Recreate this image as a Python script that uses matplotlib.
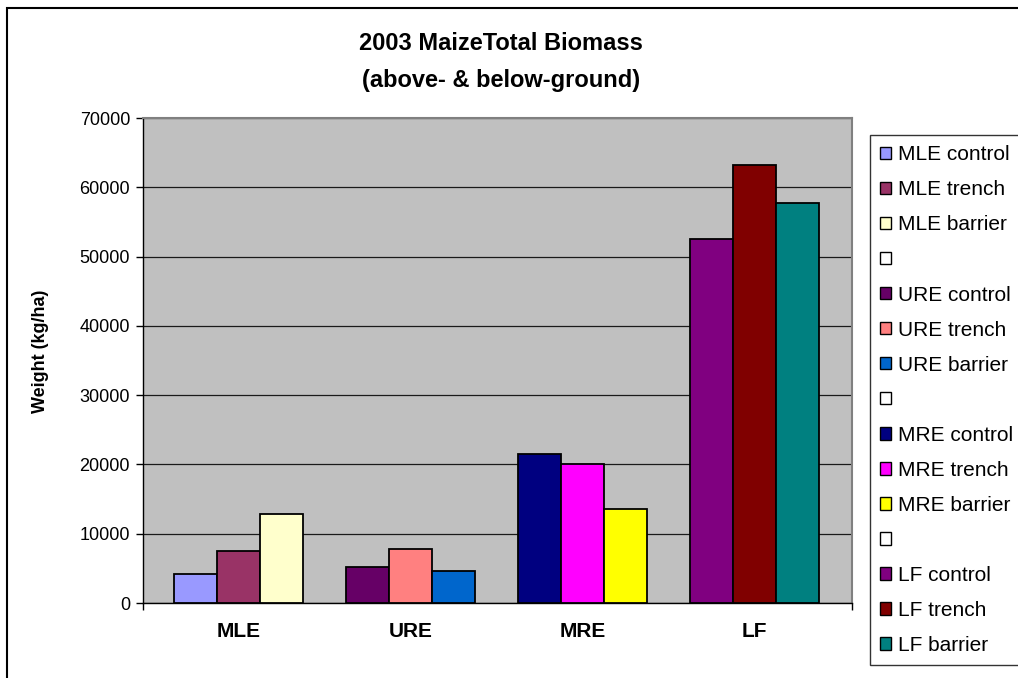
import numpy as np
import matplotlib.pyplot as plt
from matplotlib.patches import Patch, Rectangle

# Total maize biomass per site and treatment (kg/ha)
sites = ['MLE', 'URE', 'MRE', 'LF']
treatments = ['control', 'trench', 'barrier']
control = [4200, 5150, 21500, 52600]
trench = [7500, 7750, 20100, 63200]
barrier = [12850, 4650, 13550, 57700]

# one Excel-style colour per site/treatment pair
colors = [['#9999FF', '#993366', '#FFFFCC'],
          ['#660066', '#FF8080', '#0066CC'],
          ['#000080', '#FF00FF', '#FFFF00'],
          ['#800080', '#800000', '#008080']]

plt.rcParams['font.family'] = ['Liberation Sans', 'DejaVu Sans']

fig = plt.figure(figsize=(10.18, 6.78), dpi=100)
ax = fig.add_axes([0.14, 0.1106, 0.697, 0.7153])

ax.set_facecolor('#C0C0C0')
ax.set_axisbelow(True)
ax.yaxis.grid(True, color='#1a1a1a', linewidth=0.9)

# Draw the bars.
width = 0.25
values = [control, trench, barrier]
xpos = np.arange(len(sites))
for j, vals in enumerate(values):
    for i, v in enumerate(vals):
        ax.bar(xpos[i] + (j - 1) * width, v, width, color=colors[i][j],
               edgecolor='black', linewidth=1.3, zorder=3)

ax.set_xlim(-0.56, 3.57)
ax.set_ylim(0, 70000)
ax.set_yticks(np.arange(0, 70001, 10000))
ax.tick_params(axis='y', direction='out', length=5, width=1,
               labelsize=13, pad=4)
ax.set_xticks(xpos)
ax.set_xticklabels(sites, fontsize=15, fontweight='bold')
ax.tick_params(axis='x', which='major', length=0, pad=14)
ax.set_xticks([-0.56, 3.57], minor=True)
ax.tick_params(axis='x', which='minor', direction='out', length=5, width=1)

for loc in ['top', 'right']:
    ax.spines[loc].set_color('#808080')
    ax.spines[loc].set_linewidth(1.5)
for loc in ['left', 'bottom']:
    ax.spines[loc].set_color('black')
    ax.spines[loc].set_linewidth(1)

ax.set_ylabel('Weight (kg/ha)', fontsize=13, fontweight='bold')
ax.yaxis.set_label_coords(-0.132, 0.52)

fig.text(0.4925, 1 - 44 / 678, '2003 MaizeTotal Biomass',
         ha='center', va='center', fontsize=17, fontweight='bold')
fig.text(0.4925, 1 - 80 / 678, '(above- & below-ground)',
         ha='center', va='center', fontsize=17, fontweight='bold')

# Legend: a blank entry separates each site.
handles = []
labels = []
for i, site in enumerate(sites):
    if i > 0:
        handles.append(Patch(facecolor='white', edgecolor='black', linewidth=1))
        labels.append(' ')
    for j, tr in enumerate(treatments):
        handles.append(Patch(facecolor=colors[i][j], edgecolor='black',
                             linewidth=1))
        labels.append(site + ' ' + tr)

leg = fig.legend(handles, labels, loc='upper left',
                 bbox_to_anchor=(870 / 1018, 1 - 135 / 678),
                 fontsize=15, frameon=True, fancybox=False,
                 handlelength=0.53, handleheight=0.53, handletextpad=0.3,
                 labelspacing=0.77, borderpad=0.5, borderaxespad=0)
leg.get_frame().set_edgecolor('black')
leg.get_frame().set_linewidth(1)

# Chart border
fig.patches.append(Rectangle((6.5 / 1018, -0.1), 1.2, 1.1 - 8 / 678,
                             transform=fig.transFigure, fill=False,
                             edgecolor='black', linewidth=1.5))

fig.savefig('out.png', dpi=100)
